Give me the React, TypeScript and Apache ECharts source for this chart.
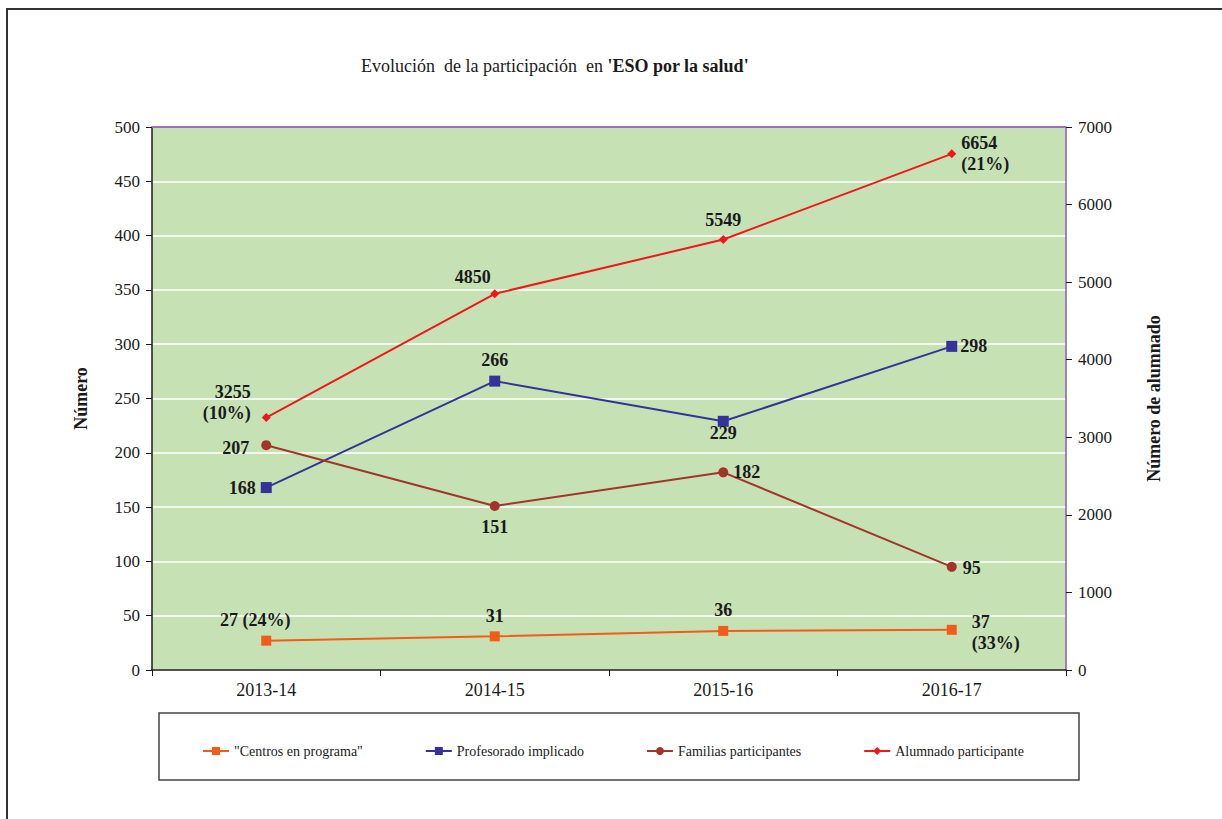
import React, { useEffect, useRef } from "react";
import * as echarts from "echarts";

const categories = ["2013-14", "2014-15", "2015-16", "2016-17"];
const centros = [27, 31, 36, 37];
const centrosPct = ["24%", "", "", "33%"];
const profesorado = [168, 266, 229, 298];
const familias = [207, 151, 182, 95];
const alumnado = [3255, 4850, 5549, 6654];
const alumnadoPct = ["10%", "", "", "21%"];
const leftTicks = { min: 0, max: 500, interval: 50 };
const rightTicks = { min: 0, max: 7000, interval: 1000 };

const FONT = "Liberation Serif";

const lblBase = {
  show: true,
  color: "#1a1a1a",
  fontFamily: FONT,
  fontWeight: "bold" as const,
  fontSize: 18,
  lineHeight: 21,
};

export default function App() {
  const ref = useRef<HTMLDivElement>(null);
  useEffect(() => {
    document.body.style.margin = "0";
    if (!ref.current) return;
    const chart = echarts.init(ref.current, null, { renderer: "svg" });

    const centrosPlace = [
      { position: "top", distance: 5, offset: [-11, 0] },
      { position: "top", distance: 5, offset: [0, 0] },
      { position: "top", distance: 5, offset: [0, 0] },
      { position: "right", distance: 5, offset: [10, 3] },
    ];
    const profPlace = [
      { position: "left", distance: 5, offset: [0, 0] },
      { position: "top", distance: 5, offset: [0, 0] },
      { position: "bottom", distance: 0, offset: [0, -4] },
      { position: "right", distance: 3, offset: [0, 0] },
    ];
    const famPlace = [
      { position: "left", distance: 12, offset: [0, 3] },
      { position: "bottom", distance: 5, offset: [0, 0] },
      { position: "right", distance: 5, offset: [0, 0] },
      { position: "right", distance: 6, offset: [0, 1] },
    ];
    const aluPlace = [
      { position: "left", distance: 5, offset: [-6, -15] },
      { position: "top", distance: 5, offset: [-22, 3] },
      { position: "top", distance: 5, offset: [0, 0] },
      { position: "right", distance: 5, offset: [0, 0] },
    ];

    const mk = (vals: number[], place: any[], fmt: (i: number) => string) =>
      vals.map((v, i) => ({
        value: v,
        label: { ...lblBase, ...place[i], formatter: fmt(i) },
      }));

    const option: any = {
      animation: false,
      backgroundColor: "#ffffff",
      textStyle: { fontFamily: FONT },
      title: {
        text: "{n|Evolución  de la participación  en }{b|'ESO por la salud'}",
        left: 356,
        top: 52,
        textStyle: {
          fontFamily: FONT,
          fontWeight: "normal",
          rich: {
            n: { fontFamily: FONT, fontSize: 18, fontWeight: "normal", color: "#1a1a1a" },
            b: { fontFamily: FONT, fontSize: 18, fontWeight: "bold", color: "#1a1a1a" },
          },
        },
      },
      grid: {
        left: 152,
        right: 156,
        top: 127,
        bottom: 149,
        show: true,
        backgroundColor: "#c6e2b5",
        borderWidth: 0,
      },
      legend: {
        left: 197,
        top: 739,
        itemGap: 62,
        itemWidth: 26,
        itemHeight: 10,
        textStyle: { fontFamily: FONT, fontSize: 14, color: "#1a1a1a" },
        data: ['"Centros en programa"', "Profesorado implicado", "Familias participantes", "Alumnado participante"],
      },
      xAxis: {
        type: "category",
        data: categories,
        axisLine: { lineStyle: { color: "#1a1a1a", width: 1.5 } },
        axisTick: { show: true, length: 6, lineStyle: { color: "#1a1a1a" } },
        axisLabel: { fontFamily: FONT, fontSize: 18, color: "#1a1a1a", margin: 11 },
      },
      yAxis: [
        {
          type: "value",
          ...leftTicks,
          position: "left",
          name: "Número",
          nameLocation: "middle",
          nameRotate: 90,
          nameGap: 62,
          nameTextStyle: { fontFamily: FONT, fontSize: 18, fontWeight: "bold", color: "#1a1a1a" },
          axisLine: { show: true, lineStyle: { color: "#1a1a1a", width: 1.5 } },
          axisTick: { show: true, length: 6, lineStyle: { color: "#1a1a1a" } },
          axisLabel: { fontFamily: FONT, fontSize: 17, color: "#1a1a1a", margin: 12 },
          splitLine: { show: true, lineStyle: { color: "#ffffff", width: 1.5 } },
        },
        {
          type: "value",
          ...rightTicks,
          position: "right",
          name: "Número de alumnado",
          nameLocation: "middle",
          nameRotate: 90,
          nameGap: 79,
          nameTextStyle: { fontFamily: FONT, fontSize: 18, fontWeight: "bold", color: "#1a1a1a" },
          axisLine: { show: true, lineStyle: { color: "#8e5aa8", width: 1.5 } },
          axisTick: { show: true, length: 6, lineStyle: { color: "#1a1a1a" } },
          axisLabel: {
            fontFamily: FONT,
            fontSize: 17,
            color: "#1a1a1a",
            margin: 12,
            formatter: (v: number) => String(v),
          },
          splitLine: { show: false },
        },
      ],
      graphic: [
        {
          type: "rect",
          shape: { x: 7, y: 9, width: 1400, height: 1000 },
          style: { fill: "none", stroke: "#333333", lineWidth: 2 },
          silent: true,
        },
        {
          type: "rect",
          shape: { x: 159, y: 713, width: 920, height: 67 },
          style: { fill: "none", stroke: "#444444", lineWidth: 1.5 },
          silent: true,
        },
        {
          type: "line",
          shape: { x1: 152, y1: 127, x2: 1066, y2: 127 },
          style: { stroke: "#a070c0", lineWidth: 2 },
          silent: true,
          z: 10,
        },
      ],
      series: [
        {
          name: '"Centros en programa"',
          type: "line",
          yAxisIndex: 0,
          data: mk(centros, centrosPlace, (i) =>
            i === 3 ? `${centros[i]}\n(${centrosPct[i]})` : centrosPct[i] ? `${centros[i]} (${centrosPct[i]})` : `${centros[i]}`
          ),
          symbol: "rect",
          symbolSize: 10,
          itemStyle: { color: "#f25c19" },
          lineStyle: { color: "#f25c19", width: 2 },
        },
        {
          name: "Profesorado implicado",
          type: "line",
          yAxisIndex: 0,
          data: mk(profesorado, profPlace, (i) => `${profesorado[i]}`),
          symbol: "rect",
          symbolSize: 11,
          itemStyle: { color: "#333399" },
          lineStyle: { color: "#333399", width: 2 },
        },
        {
          name: "Familias participantes",
          type: "line",
          yAxisIndex: 0,
          data: mk(familias, famPlace, (i) => `${familias[i]}`),
          symbol: "circle",
          symbolSize: 10,
          itemStyle: { color: "#a3342a" },
          lineStyle: { color: "#a3342a", width: 2 },
        },
        {
          name: "Alumnado participante",
          type: "line",
          yAxisIndex: 1,
          data: mk(alumnado, aluPlace, (i) =>
            alumnadoPct[i] ? `${alumnado[i]}\n(${alumnadoPct[i]})` : `${alumnado[i]}`
          ),
          symbol: "diamond",
          symbolSize: 9,
          itemStyle: { color: "#f0161b" },
          lineStyle: { color: "#f0161b", width: 2 },
        },
      ],
    };
    chart.setOption(option);
    return () => chart.dispose();
  }, []);
  return <div ref={ref} style={{ width: 1222, height: 819 }} />;
}
